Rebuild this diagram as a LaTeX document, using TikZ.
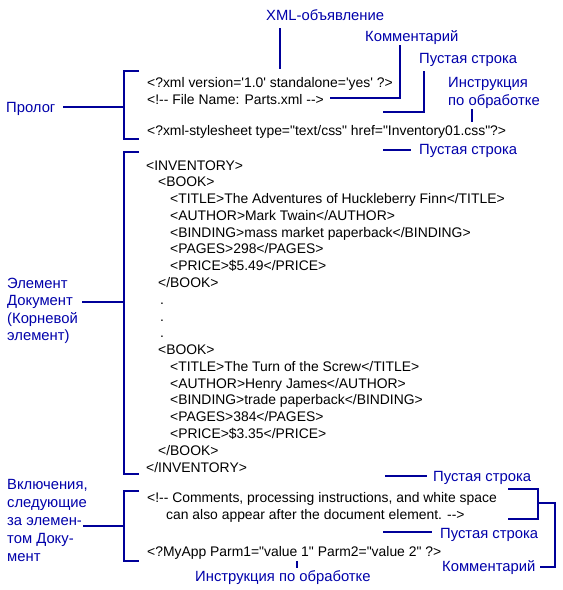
\documentclass[tikz,border=0pt]{standalone}
\usepackage{fontspec}
\setmainfont{Liberation Sans}[Ligatures=TeXOff]
\definecolor{lineblue}{RGB}{0,0,153}
\definecolor{labelblue}{RGB}{0,0,170}
\begin{document}
\begin{tikzpicture}[x=1pt,y=-1pt,
  code/.style={anchor=base west, inner sep=0pt, font=\fontsize{13.9}{16}\selectfont},
  lbl/.style={anchor=base west, inner sep=0pt, text=labelblue, font=\fontsize{14.8}{18}\selectfont, align=left},
  conn/.style={draw=lineblue, line width=2.6pt}]
\useasboundingbox (0,0) rectangle (563,590);

% ---------- code lines ----------
\node[code] (c1) at (147,87) {<?xml version='1.0' standalone='yes' ?>};
\node[code] (c2) at (147,104) {<!-- File Name: Parts.xml -->};
\node[code] (c3) at (147,135) {<?xml-stylesheet type="text/css" href="Inventory01.css"?>};
\node[code] (r0) at (146,170) {<INVENTORY>};
\node[code] (r1) at (158,186.8) {<BOOK>};
\node[code] (r2) at (170,203.6) {<TITLE>The Adventures of Huckleberry Finn</TITLE>};
\node[code] (r3) at (170,220.3) {<AUTHOR>Mark Twain</AUTHOR>};
\node[code] (r4) at (170,237.1) {<BINDING>mass market paperback</BINDING>};
\node[code] (r5) at (170,253.9) {<PAGES>298</PAGES>};
\node[code] (r6) at (170,270.7) {<PRICE>\$5.49</PRICE>};
\node[code] (r7) at (158,287.5) {</BOOK>};
\node[code] (r8) at (160,304.2) {.};
\node[code] (r9) at (160,321.0) {.};
\node[code] (r10) at (160,337.8) {.};
\node[code] (r11) at (158,354.6) {<BOOK>};
\node[code] (r12) at (170,371.4) {<TITLE>The Turn of the Screw</TITLE>};
\node[code] (r13) at (170,388.1) {<AUTHOR>Henry James</AUTHOR>};
\node[code] (r14) at (170,404.9) {<BINDING>trade paperback</BINDING>};
\node[code] (r15) at (170,421.7) {<PAGES>384</PAGES>};
\node[code] (r16) at (170,438.5) {<PRICE>\$3.35</PRICE>};
\node[code] (r17) at (158,455.3) {</BOOK>};
\node[code] (r18) at (146,472) {</INVENTORY>};
\node[code] (m1) at (147,502.5) {<!-- Comments, processing instructions, and white space};
\node[code] (m2) at (166,519.5) {can also appear after the document element. -->};
\node[code] (m3) at (147,556) {<?MyApp Parm1="value 1" Parm2="value 2" ?>};

% ---------- labels ----------
\node[lbl] (lxml) at (266,20.5) {XML-объявление};
\node[lbl] (lcom1) at (365,41.5) {Комментарий};
\node[lbl] (lempty1) at (419,63.5) {Пустая строка};
\node[lbl] (linstr1) at (448,105.5) {Инструкция\\по обработке};
\node[lbl] (lempty2) at (419,154.5) {Пустая строка};
\node[lbl] (lprolog) at (6,112.5) {Пролог};
\node[lbl, font=\fontsize{14.8}{17.3}\selectfont] (lroot) at (7,340.5) {Элемент\\Документ\\(Корневой\\элемент)};
\node[lbl] (lempty3) at (433,481.5) {Пустая строка};
\node[lbl] (lafter) at (7,561.5) {Включения,\\следующие\\за элемен-\\том Доку-\\мент};
\node[lbl] (lempty4) at (440,538.5) {Пустая строка};
\node[lbl] (lcom2) at (442,571.5) {Комментарий};
\node[lbl] (linstr2) at (195,581.5) {Инструкция по обработке};

% ---------- connector points ----------
\coordinate (xA) at (280,28);  \coordinate (xB) at (280,69);
\coordinate (kA) at (400,45);  \coordinate (kB) at (400,98);  \coordinate (kC) at (330,98);
\coordinate (eA) at (424,71);  \coordinate (eB) at (424,112); \coordinate (eC) at (383,112);
\coordinate (iA) at (472,109); \coordinate (iB) at (472,122);
\coordinate (fA) at (383,150); \coordinate (fB) at (411,150);
\coordinate (pT) at (139,71);  \coordinate (pB) at (139,139); \coordinate (pM) at (124,107); \coordinate (pL) at (63,107);
\coordinate (rT) at (139,152); \coordinate (rB) at (139,474); \coordinate (rM) at (124,302); \coordinate (rL) at (82,302);
\coordinate (gA) at (385,476); \coordinate (gB) at (427,476);
\coordinate (bT) at (139,491); \coordinate (bB) at (139,561); \coordinate (bM) at (124,526); \coordinate (bL) at (83,526);
\coordinate (sT) at (508,489); \coordinate (sB) at (508,519); \coordinate (sM) at (538,503);
\coordinate (sE) at (555,567); \coordinate (sF) at (540,567);
\coordinate (hA) at (383,532); \coordinate (hB) at (432,532);
\coordinate (jA) at (297,561); \coordinate (jB) at (297,568);

% ---------- connectors ----------
\draw[conn] (xA) -- (xB);
\draw[conn] (kA) -- (kB) -- (kC);
\draw[conn] (eA) -- (eB) -- (eC);
\draw[conn] (iA) -- (iB);
\draw[conn] (fA) -- (fB);
\draw[conn] (pT) -- (pT -| pM) -- (pB -| pM) -- (pB);
\draw[conn] (pL) -- (pM);
\draw[conn] (rT) -- (rT -| rM) -- (rB -| rM) -- (rB);
\draw[conn] (rL) -- (rM);
\draw[conn] (gA) -- (gB);
\draw[conn] (bT) -- (bT -| bM) -- (bB -| bM) -- (bB);
\draw[conn] (bL) -- (bM);
\draw[conn] (sT) -- (sT -| sM) -- (sB -| sM) -- (sB);
\draw[conn] (sM) -- (sM -| sE) -- (sE) -- (sF);
\draw[conn] (hA) -- (hB);
\draw[conn] (jA) -- (jB);
\end{tikzpicture}
\end{document}
